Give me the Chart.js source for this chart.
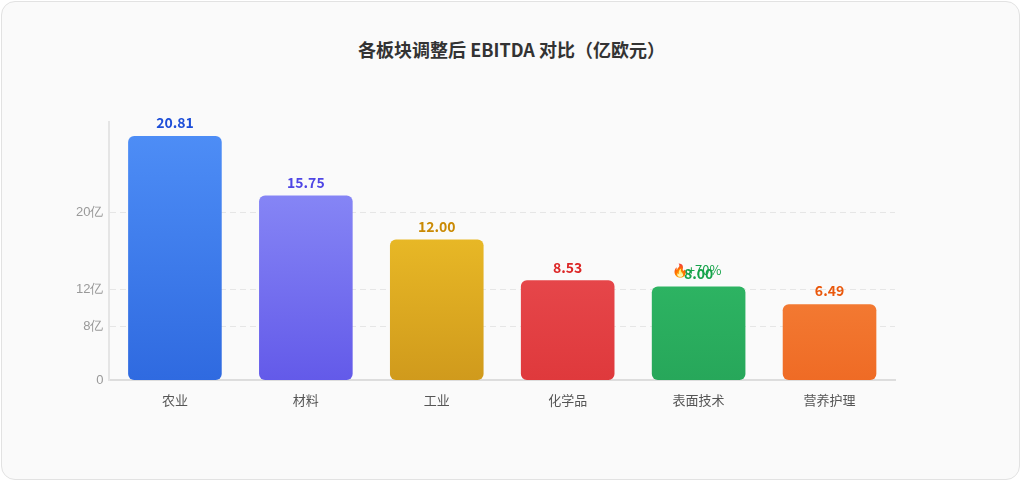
<!DOCTYPE html>
<html><head><meta charset="utf-8">
<script src="https://cdn.jsdelivr.net/npm/chart.js@4/dist/chart.umd.min.js"></script>
<style>
html,body{margin:0;background:#fff;font-family:"Noto Sans CJK SC","Noto Sans",sans-serif;}
#card{position:absolute;left:1px;top:1px;width:1019px;height:479px;border:1px solid #e2e2e2;border-radius:14px;background:#fafafa;box-sizing:border-box;}
#title{position:absolute;left:0;top:36px;width:1023px;text-align:center;font-size:18px;font-weight:bold;color:#333;}
#wrap{position:absolute;left:20px;top:100px;width:980px;height:312px;}
</style></head><body>
<div id="card"></div>
<div id="title">各板块调整后 EBITDA 对比（亿欧元）</div>
<div id="wrap"><canvas id="c"></canvas></div>
<script>
const categories=['农业','材料','工业','化学品','表面技术','营养护理'];
const values=[20.81,15.75,12.00,8.53,8.00,6.49];
const topColors=['#4f8ff7','#9396fa','#fbd02e','#f05a5f','#37c870','#fb9a4f'];
const bottomColors=['#2f6ae0','#635ae9','#d09a1c','#df393c','#27a75a','#ef6b25'];
const labelColors=['#1d4ed8','#4f46e5','#ca8a04','#dc2626','#16a34a','#ea580c'];
const tickPositions=[0,4.6,7.75,14.3];
const tickLabels=['0','8亿','12亿','20亿'];
const badge='🔥+70%';
const badgeIndex=4;
const ctx=document.getElementById('c');
const valuePlugin={id:'vals',afterDatasetsDraw(ch){
 const c=ch.ctx,meta=ch.getDatasetMeta(0);
 c.save();c.textAlign='center';c.textBaseline='bottom';
 meta.data.forEach((b,i)=>{c.font='bold 14px "Noto Sans CJK SC",sans-serif';c.fillStyle=labelColors[i];
  c.fillText(values[i].toFixed(2),b.x,b.y-6);
  if(i===badgeIndex){c.font='13px "Noto Sans CJK SC",sans-serif';c.fillStyle='#16a34a';c.fillText(badge,b.x-2,b.y-10);}
 });
 c.restore();}};
new Chart(ctx,{type:'bar',data:{labels:categories,datasets:[{data:values,
 backgroundColor(cx){const ch=cx.chart,a=ch.chartArea;if(!a)return topColors[cx.dataIndex];
  const g=ch.ctx.createLinearGradient(0,a.top,0,a.bottom);g.addColorStop(0,topColors[cx.dataIndex]);g.addColorStop(1,bottomColors[cx.dataIndex]);return g;},
 borderRadius:6,borderSkipped:false,categoryPercentage:0.715,barPercentage:1}]},
 options:{responsive:true,maintainAspectRatio:false,animation:false,
 layout:{padding:{left:50,right:105,top:22,bottom:0}},
 plugins:{legend:{display:false},tooltip:{enabled:false},title:{display:false}},
 scales:{x:{grid:{display:false},border:{color:'#ddd',width:2},ticks:{color:'#555',padding:4,font:{size:13,family:'"Noto Sans CJK SC",sans-serif'}}},
  y:{min:0,max:22,
   afterBuildTicks(s){s.ticks=tickPositions.map(v=>({value:v}));},
   grid:{color:'#e6e6e6',drawTicks:false,lineWidth:1},
   border:{dash:[6,4],color:'#e5e5e5',width:2},
   ticks:{padding:6,color:'#999',font:{size:13},callback(v,i){return tickLabels[i];}}}}},
 plugins:[valuePlugin]});
</script></body></html>
